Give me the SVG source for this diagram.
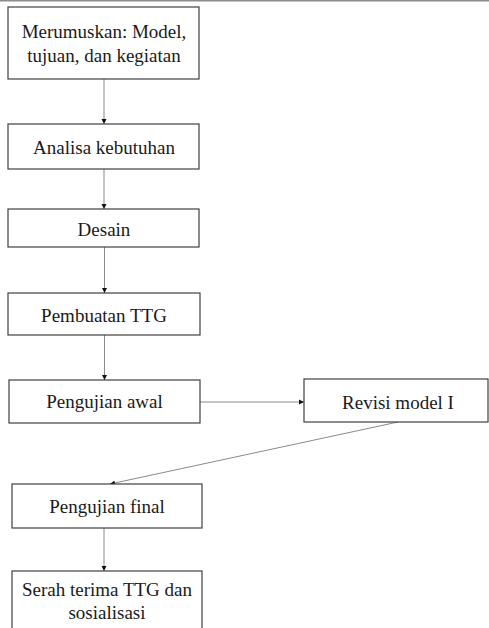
<svg xmlns="http://www.w3.org/2000/svg" width="489" height="628" viewBox="0 0 489 628">
<style>
.box{fill:#fff;stroke:#404040;stroke-width:1.2}
.t{font-family:"Liberation Serif","Times New Roman",serif;font-size:19px;fill:#1a1a1a;text-anchor:middle}
.c{stroke:#8a8a8a;stroke-width:1;fill:none;marker-end:url(#ah)}
</style>
<defs>
<marker id="ah" markerWidth="6" markerHeight="6" refX="5" refY="3" orient="auto" markerUnits="userSpaceOnUse">
<path d="M0,0.5 L5,3 L0,5.5 Z" fill="#111"/>
</marker>
</defs>
<rect x="0" y="0" width="489" height="628" fill="#fff"/>
<line x1="0" y1="0.75" x2="489" y2="0.75" stroke="#8c8c8c" stroke-width="1.5"/>
<g id="connectors">
<line class="c" x1="104" y1="79" x2="104" y2="124"/>
<line class="c" x1="104" y1="169" x2="104" y2="209"/>
<line class="c" x1="104.5" y1="247" x2="104.5" y2="293"/>
<line class="c" x1="104.5" y1="335" x2="104.5" y2="380"/>
<line class="c" x1="200" y1="402" x2="304" y2="402"/>
<line class="c" x1="398" y1="422" x2="110" y2="484"/>
<line class="c" x1="104" y1="528" x2="104" y2="571"/>
</g>
<g id="n1"><rect class="box" x="8" y="7" width="191" height="72"/><text class="t" x="104" y="38">Merumuskan: Model,</text><text class="t" x="104" y="62">tujuan, dan kegiatan</text></g>
<g id="n2"><rect class="box" x="8" y="124" width="191" height="45"/><text class="t" x="104" y="154">Analisa kebutuhan</text></g>
<g id="n3"><rect class="box" x="8" y="209" width="191" height="38"/><text class="t" x="104" y="236">Desain</text></g>
<g id="n4"><rect class="box" x="8" y="293" width="192" height="42"/><text class="t" x="104" y="322">Pembuatan TTG</text></g>
<g id="n5"><rect class="box" x="9" y="380" width="191" height="43"/><text class="t" x="104.5" y="408">Pengujian awal</text></g>
<g id="n6"><rect class="box" x="304" y="379" width="184" height="43"/><text class="t" x="398" y="409">Revisi model I</text></g>
<g id="n7"><rect class="box" x="12" y="484" width="190" height="44"/><text class="t" x="107" y="513">Pengujian final</text></g>
<g id="n8"><rect class="box" x="12" y="571" width="190" height="70"/><text class="t" x="107" y="596">Serah terima TTG dan</text><text class="t" x="107" y="619">sosialisasi</text></g>
</svg>
